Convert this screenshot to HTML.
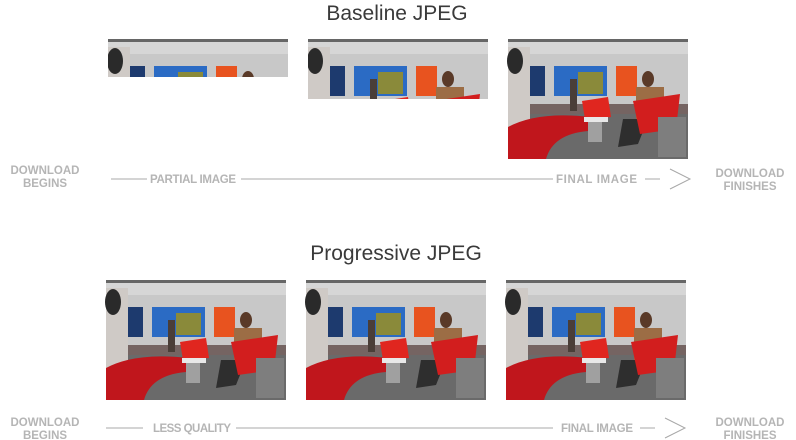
<!DOCTYPE html>
<html><head><meta charset="utf-8"><style>
html,body{margin:0;padding:0;background:#fff;width:796px;height:440px;overflow:hidden}
svg{display:block}
.t{font-family:"Liberation Sans",sans-serif;font-size:21px;fill:#3a3a3a}
.l{font-family:"Liberation Sans Narrow","Liberation Sans",sans-serif;font-size:11.5px;fill:#b5b5b5;font-weight:bold}
</style></head><body>
<svg width="796" height="440" viewBox="0 0 796 440" xmlns="http://www.w3.org/2000/svg">
<defs>
<g id="ph">
<rect width="180" height="120" fill="#bdbdbd"/>
<rect width="180" height="3" fill="#666"/>
<rect y="3" width="180" height="12" fill="#d6d6d6"/>
<rect y="15" width="180" height="50" fill="#c8c8c8"/>
<rect x="15" y="27" width="22" height="30" fill="#1d3a6e"/>
<rect x="46" y="27" width="53" height="30" fill="#2b6bc4"/>
<rect x="70" y="33" width="25" height="22" fill="#8a8a3a"/>
<rect x="108" y="27" width="21" height="30" fill="#e8531f"/>
<rect y="65" width="180" height="55" fill="#6a6a6a"/>
<rect x="0" y="65" width="180" height="10" fill="#756462"/>
<rect x="0" y="8" width="22" height="80" fill="#cfcac6"/>
<ellipse cx="7" cy="22" rx="8" ry="13" fill="#2a2a2a"/>
<path d="M0 88 Q30 72 82 78 L80 92 Q45 95 38 120 L0 120Z" fill="#c0161c"/>
<rect x="62" y="40" width="7" height="32" fill="#4a3e38"/>
<path d="M74 62 L100 58 L103 78 L77 80Z" fill="#e0261f"/>
<rect x="76" y="78" width="24" height="5" fill="#e8e8e8"/>
<rect x="80" y="83" width="14" height="20" fill="#a0a0a0"/>
<ellipse cx="140" cy="40" rx="6" ry="8" fill="#5a3a28"/>
<rect x="128" y="48" width="28" height="32" fill="#9c6d45"/>
<path d="M115 80 L140 80 L130 105 L110 108Z" fill="#2e2e2e"/>
<path d="M125 62 L172 55 L168 90 L132 95Z" fill="#d21e1e"/>
<rect x="150" y="78" width="28" height="40" fill="#7e7e7e"/>
</g>
<clipPath id="c1"><rect x="108" y="39" width="180" height="38"/></clipPath>
<clipPath id="c2"><rect x="308" y="39" width="180" height="60"/></clipPath>
</defs>

<text class="t" x="397" y="20" text-anchor="middle">Baseline JPEG</text>
<g clip-path="url(#c1)"><use href="#ph" x="108" y="39"/></g>
<g clip-path="url(#c2)"><use href="#ph" x="308" y="39"/></g>
<use href="#ph" x="508" y="39"/>

<g stroke="#a8a8a8" stroke-width="1" fill="none">
<line x1="111" y1="179" x2="147" y2="179"/>
<line x1="241" y1="179" x2="553" y2="179"/>
<line x1="645" y1="179" x2="660" y2="179"/>
<polyline points="670,169 690,179 670,189"/>
<line x1="106" y1="428" x2="143" y2="428"/>
<line x1="236" y1="428" x2="553" y2="428"/>
<line x1="640" y1="428" x2="655" y2="428"/>
<polyline points="665,418 685,428 665,438"/>
</g>
<text class="l" x="45" y="174" text-anchor="middle">DOWNLOAD</text>
<text class="l" x="45" y="187" text-anchor="middle">BEGINS</text>
<text class="l" x="150" y="183" textLength="86">PARTIAL IMAGE</text>
<text class="l" x="556" y="183" textLength="81">FINAL IMAGE</text>
<text class="l" x="750" y="177" text-anchor="middle">DOWNLOAD</text>
<text class="l" x="750" y="190" text-anchor="middle">FINISHES</text>

<text class="t" x="396" y="260" text-anchor="middle">Progressive JPEG</text>
<use href="#ph" x="106" y="280"/>
<use href="#ph" x="306" y="280"/>
<use href="#ph" x="506" y="280"/>

<text class="l" x="45" y="426" text-anchor="middle">DOWNLOAD</text>
<text class="l" x="45" y="439" text-anchor="middle">BEGINS</text>
<text class="l" x="153" y="432" textLength="78">LESS QUALITY</text>
<text class="l" x="561" y="432" textLength="72">FINAL IMAGE</text>
<text class="l" x="750" y="426" text-anchor="middle">DOWNLOAD</text>
<text class="l" x="750" y="439" text-anchor="middle">FINISHES</text>
</svg>
</body></html>
